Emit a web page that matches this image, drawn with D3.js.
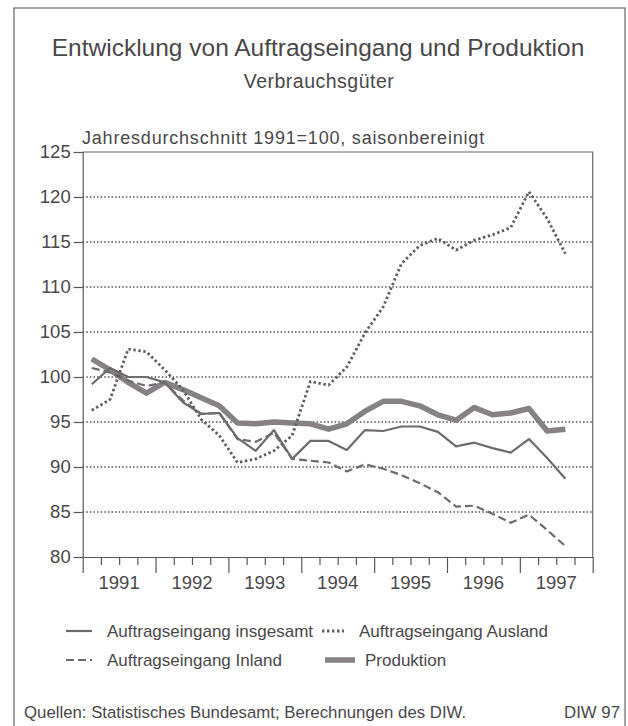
<!DOCTYPE html>
<html lang="de">
<head>
<meta charset="utf-8">
<title>Auftragseingang und Produktion</title>
<script src="https://cdn.jsdelivr.net/npm/d3@7"></script>
<style>
	body { margin: 0; background: #fff; }
	text { font-family: "Liberation Sans", Arial, sans-serif; fill: #4a474a; }
</style>
</head>
<body>
<div id="chart"></div>
<script>

// quarterly values 1991 Q1 .. 1997 Q3, 1991=100
var quarters = ["91Q1","91Q2","91Q3","91Q4","92Q1","92Q2","92Q3","92Q4","93Q1","93Q2","93Q3","93Q4",
	"94Q1","94Q2","94Q3","94Q4","95Q1","95Q2","95Q3","95Q4","96Q1","96Q2","96Q3","96Q4","97Q1","97Q2","97Q3"]
var insgesamt = [99.2,101.0,100.0,100.0,99.4,97.2,95.9,96.0,93.2,91.8,94.1,90.9,
	92.9,92.9,91.9,94.1,94.0,94.5,94.5,93.9,92.3,92.7,92.1,91.6,93.1,91.0,88.7]
var ausland = [96.3,97.5,103.1,102.8,100.8,98.6,95.3,93.5,90.5,90.9,91.8,93.5,
	99.5,99.1,101.1,104.9,107.8,112.6,114.6,115.4,114.1,115.2,115.8,116.6,120.6,117.6,113.7]
var inland = [101.0,100.5,99.6,99.0,99.4,97.4,95.9,96.0,93.1,92.8,93.8,90.9,
	90.7,90.5,89.5,90.3,89.8,89.1,88.2,87.2,85.6,85.7,84.8,83.8,84.7,83.0,81.2]
var produktion = [102.0,100.8,99.4,98.2,99.4,98.6,97.7,96.8,94.9,94.8,95.0,94.9,
	94.8,94.2,94.8,96.2,97.3,97.3,96.8,95.8,95.2,96.6,95.8,96.0,96.5,94.0,94.2]

var years = [1991,1992,1993,1994,1995,1996,1997]
var yTicks = [80,85,90,95,100,105,110,115,120,125]

var W = 628, H = 726
var svg = d3.select("#chart").append("svg").attr("width", W).attr("height", H)

// frame
svg.append("rect").attr("x", 14).attr("y", 8).attr("width", 611).attr("height", 740)
	.attr("fill", "none").attr("stroke", "#6a676a").attr("stroke-width", 1.2)

svg.append("text").text("Entwicklung von Auftragseingang und Produktion")
	.attr("x", 318).attr("y", 56).attr("text-anchor", "middle").attr("font-size", 24.5)
svg.append("text").text("Verbrauchsgüter")
	.attr("x", 319).attr("y", 88).attr("text-anchor", "middle").attr("font-size", 19.5)
	.attr("letter-spacing", 0.5)
svg.append("text").text("Jahresdurchschnitt 1991=100, saisonbereinigt")
	.attr("x", 82).attr("y", 144).attr("font-size", 18).attr("letter-spacing", 0.8)

var x = d3.scaleLinear().domain([1991, 1998]).range([82.7, 592.7])
var y = d3.scaleLinear().domain([80, 125]).range([557, 152])

function qx(i){ return x(1991 + (i + 0.5) / 4) }

// grid
svg.selectAll(".grid").data(yTicks.filter(function(d){ return d > 80 && d < 125 }))
	.enter().append("line")
	.attr("x1", x(1991)).attr("x2", x(1998))
	.attr("y1", function(d){ return y(d) }).attr("y2", function(d){ return y(d) })
	.attr("stroke", "#4a474a").attr("stroke-width", 1.4).attr("stroke-dasharray", "1.4,2.2")

// plot border top/right
svg.append("path")
	.attr("d", "M" + x(1991) + "," + y(125) + "H" + x(1998) + "V" + y(80))
	.attr("fill", "none").attr("stroke", "#6a676a").attr("stroke-width", 1.2)

var yAxis = d3.axisLeft(y).tickValues(yTicks).tickSize(9).tickPadding(3)
var gy = svg.append("g").attr("transform", "translate(" + x(1991) + ",0)").call(yAxis)
gy.selectAll("text").attr("font-size", 18.5).attr("font-family", null).attr("fill", null)
gy.selectAll("line,path").attr("stroke", "#5a575a").attr("stroke-width", 1.2)

// quarter ticks
var qTicks = d3.range(0, 29).map(function(i){ return 1991 + i / 4 })
var xAxis = d3.axisBottom(x).tickValues(qTicks).tickSize(8).tickSizeOuter(0).tickFormat("")
var gx = svg.append("g").attr("transform", "translate(0," + y(80) + ")").call(xAxis)
gx.selectAll("line,path").attr("stroke", "#5a575a").attr("stroke-width", 1.2)
gx.selectAll(".tick line").filter(function(d){ return d % 1 == 0 }).attr("y2", 16)

svg.selectAll(".year").data(years).enter().append("text")
	.text(function(d){ return d })
	.attr("x", function(d){ return x(d + 0.5) }).attr("y", 589)
	.attr("text-anchor", "middle").attr("font-size", 18.5)

var line = d3.line().x(function(d, i){ return qx(i) }).y(function(d){ return y(d) })

var series = [
	{ data: produktion, color: "#858185", width: 5.5, dash: null },
	{ data: insgesamt, color: "#6e6a6e", width: 2.2, dash: null },
	{ data: inland, color: "#6e6a6e", width: 2.2, dash: "8,4" },
	{ data: ausland, color: "#5f5b5f", width: 2.8, dash: "2.4,2.6" }
]
series.forEach(function(s){
	svg.append("path").datum(s.data).attr("d", line)
		.attr("fill", "none").attr("stroke", s.color).attr("stroke-width", s.width)
		.attr("stroke-dasharray", s.dash).attr("stroke-linejoin", "round")
})

// legend
var legend = [
	{ label: "Auftragseingang insgesamt", x: 66, y: 631, s: series[1], len: 26 },
	{ label: "Auftragseingang Ausland", x: 322, y: 631, s: series[3], len: 22 },
	{ label: "Auftragseingang Inland", x: 66, y: 660, s: series[2], len: 26 },
	{ label: "Produktion", x: 325, y: 660, s: series[0], len: 30 }
]
legend.forEach(function(l){
	svg.append("line").attr("x1", l.x).attr("x2", l.x + l.len).attr("y1", l.y).attr("y2", l.y)
		.attr("stroke", l.s.color).attr("stroke-width", l.s.width).attr("stroke-dasharray", l.s.dash)
	svg.append("text").text(l.label).attr("x", l.x + l.len + (l.s.width > 4 ? 10 : 15)).attr("y", l.y + 6)
		.attr("font-size", 17)
})

svg.append("text").text("Quellen: Statistisches Bundesamt; Berechnungen des DIW.")
	.attr("x", 24).attr("y", 718).attr("font-size", 16.8)
svg.append("text").text("DIW 97")
	.attr("x", 620).attr("y", 718).attr("text-anchor", "end").attr("font-size", 16.8)

</script>
</body>
</html>
